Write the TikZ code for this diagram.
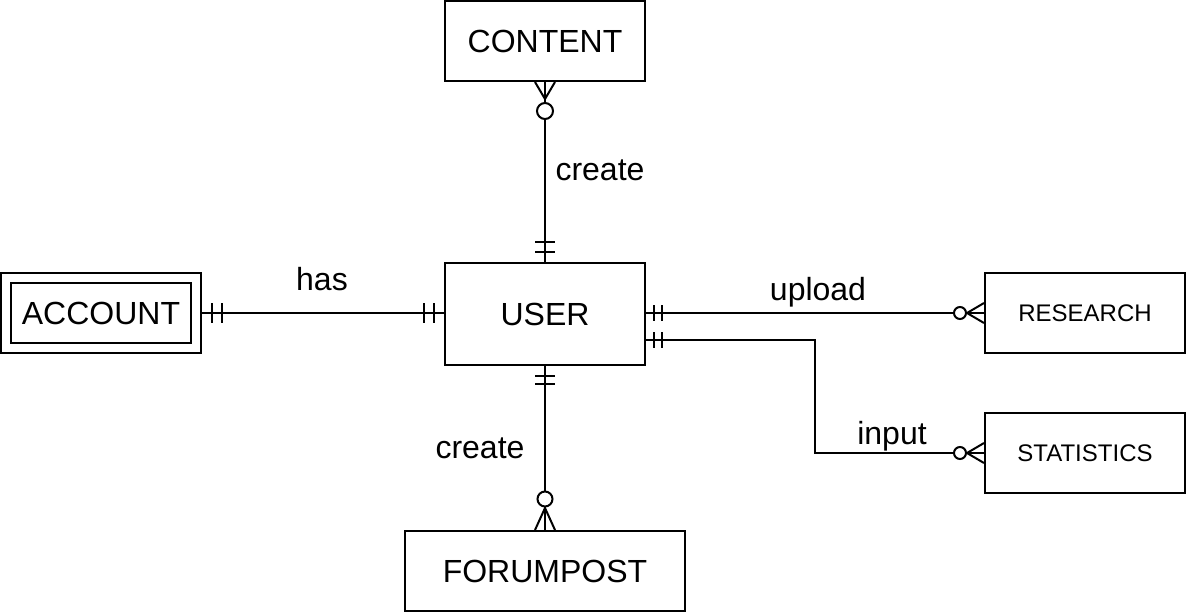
\documentclass[tikz,border=0pt]{standalone}
\usepackage{fontspec}
\setmainfont{Liberation Sans}
\usetikzlibrary{calc}
\begin{document}
\begin{tikzpicture}[x=1pt,y=-1pt,
  entity/.style={draw, line width=2pt, inner sep=0pt, minimum width=200pt,
    minimum height=80pt, font=\fontsize{32}{36}\selectfont},
  small/.style={font=\fontsize{24}{28}\selectfont},
  conn/.style={line width=2pt},
  ring/.style={line width=2pt, fill=white},
  lbl/.style={anchor=base, inner sep=0pt, font=\fontsize{32}{36}\selectfont}]
\useasboundingbox (0,0) rectangle (1186,614);

% entities
\node[entity] (content) at (545,41) {CONTENT};
\node[entity, minimum height=102pt] (user) at (545,314) {USER};
\node[entity] (account) at (101,313) {};
\node[entity, minimum width=180pt, minimum height=60pt] (accountin) at (101,313) {ACCOUNT};
\node[entity, small] (research) at (1085,313) {RESEARCH};
\node[entity, small] (statistics) at (1085,453) {STATISTICS};
\node[entity, minimum width=280pt] (forum) at (545,571) {FORUMPOST};

% relationship lines
\draw[conn] (content.south) -- (user.north);
\draw[conn] (account.east) -- (account.east -| user.west);
\draw[conn] (research.west -| user.east) -- (research.west);
\coordinate (sout) at ($(user.east)+(0,26)$);
\coordinate (bend) at (815,340);
\draw[conn] (sout) -- (bend) |- (statistics.west);
\draw[conn] (user.south) -- (forum.north);

% "one and only one" marks
\foreach \d in {10,20} {
  \draw[conn] ($(user.north)+(-10,-\d)$) -- ++(20,0);
  \draw[conn] ($(account.east)+(\d,-10)$) -- ++(0,20);
  \draw[conn] ($(account.east -| user.west)+(-\d,-10)$) -- ++(0,20);
}
\foreach \d in {8,16} {
  \draw[conn] ($(research.west -| user.east)+(\d,-8)$) -- ++(0,16);
  \draw[conn] ($(sout)+(\d,-8)$) -- ++(0,16);
}
\foreach \d in {10,18}
  \draw[conn] ($(user.south)+(-10,\d)$) -- ++(20,0);

% "zero or many" marks
\draw[conn] ($(content.south)+(-10,0)$) -- ($(content.south)+(0,17)$) -- ($(content.south)+(10,0)$);
\draw[ring] ($(content.south)+(0,29)$) circle[radius=8];
\draw[conn] ($(forum.north)+(-10,0)$) -- ($(forum.north)+(0,-22)$) -- ($(forum.north)+(10,0)$);
\draw[ring] ($(forum.north)+(0,-31)$) circle[radius=7.5];
\draw[conn] ($(research.west)+(0,-10)$) -- ($(research.west)+(-17,0)$) -- ($(research.west)+(0,10)$);
\draw[ring] ($(research.west)+(-24,0)$) circle[radius=6];
\draw[conn] ($(statistics.west)+(0,-10)$) -- ($(statistics.west)+(-17,0)$) -- ($(statistics.west)+(0,10)$);
\draw[ring] ($(statistics.west)+(-24,0)$) circle[radius=6];

% relationship names
\node[lbl] (lcreatetop) at (600,180) {create};
\node[lbl] (lhas) at (322,290) {has};
\node[lbl] (lupload) at (818,300) {upload};
\node[lbl] (linput) at (892,444) {input};
\node[lbl] (lcreatebot) at (480,458) {create};
\end{tikzpicture}
\end{document}
